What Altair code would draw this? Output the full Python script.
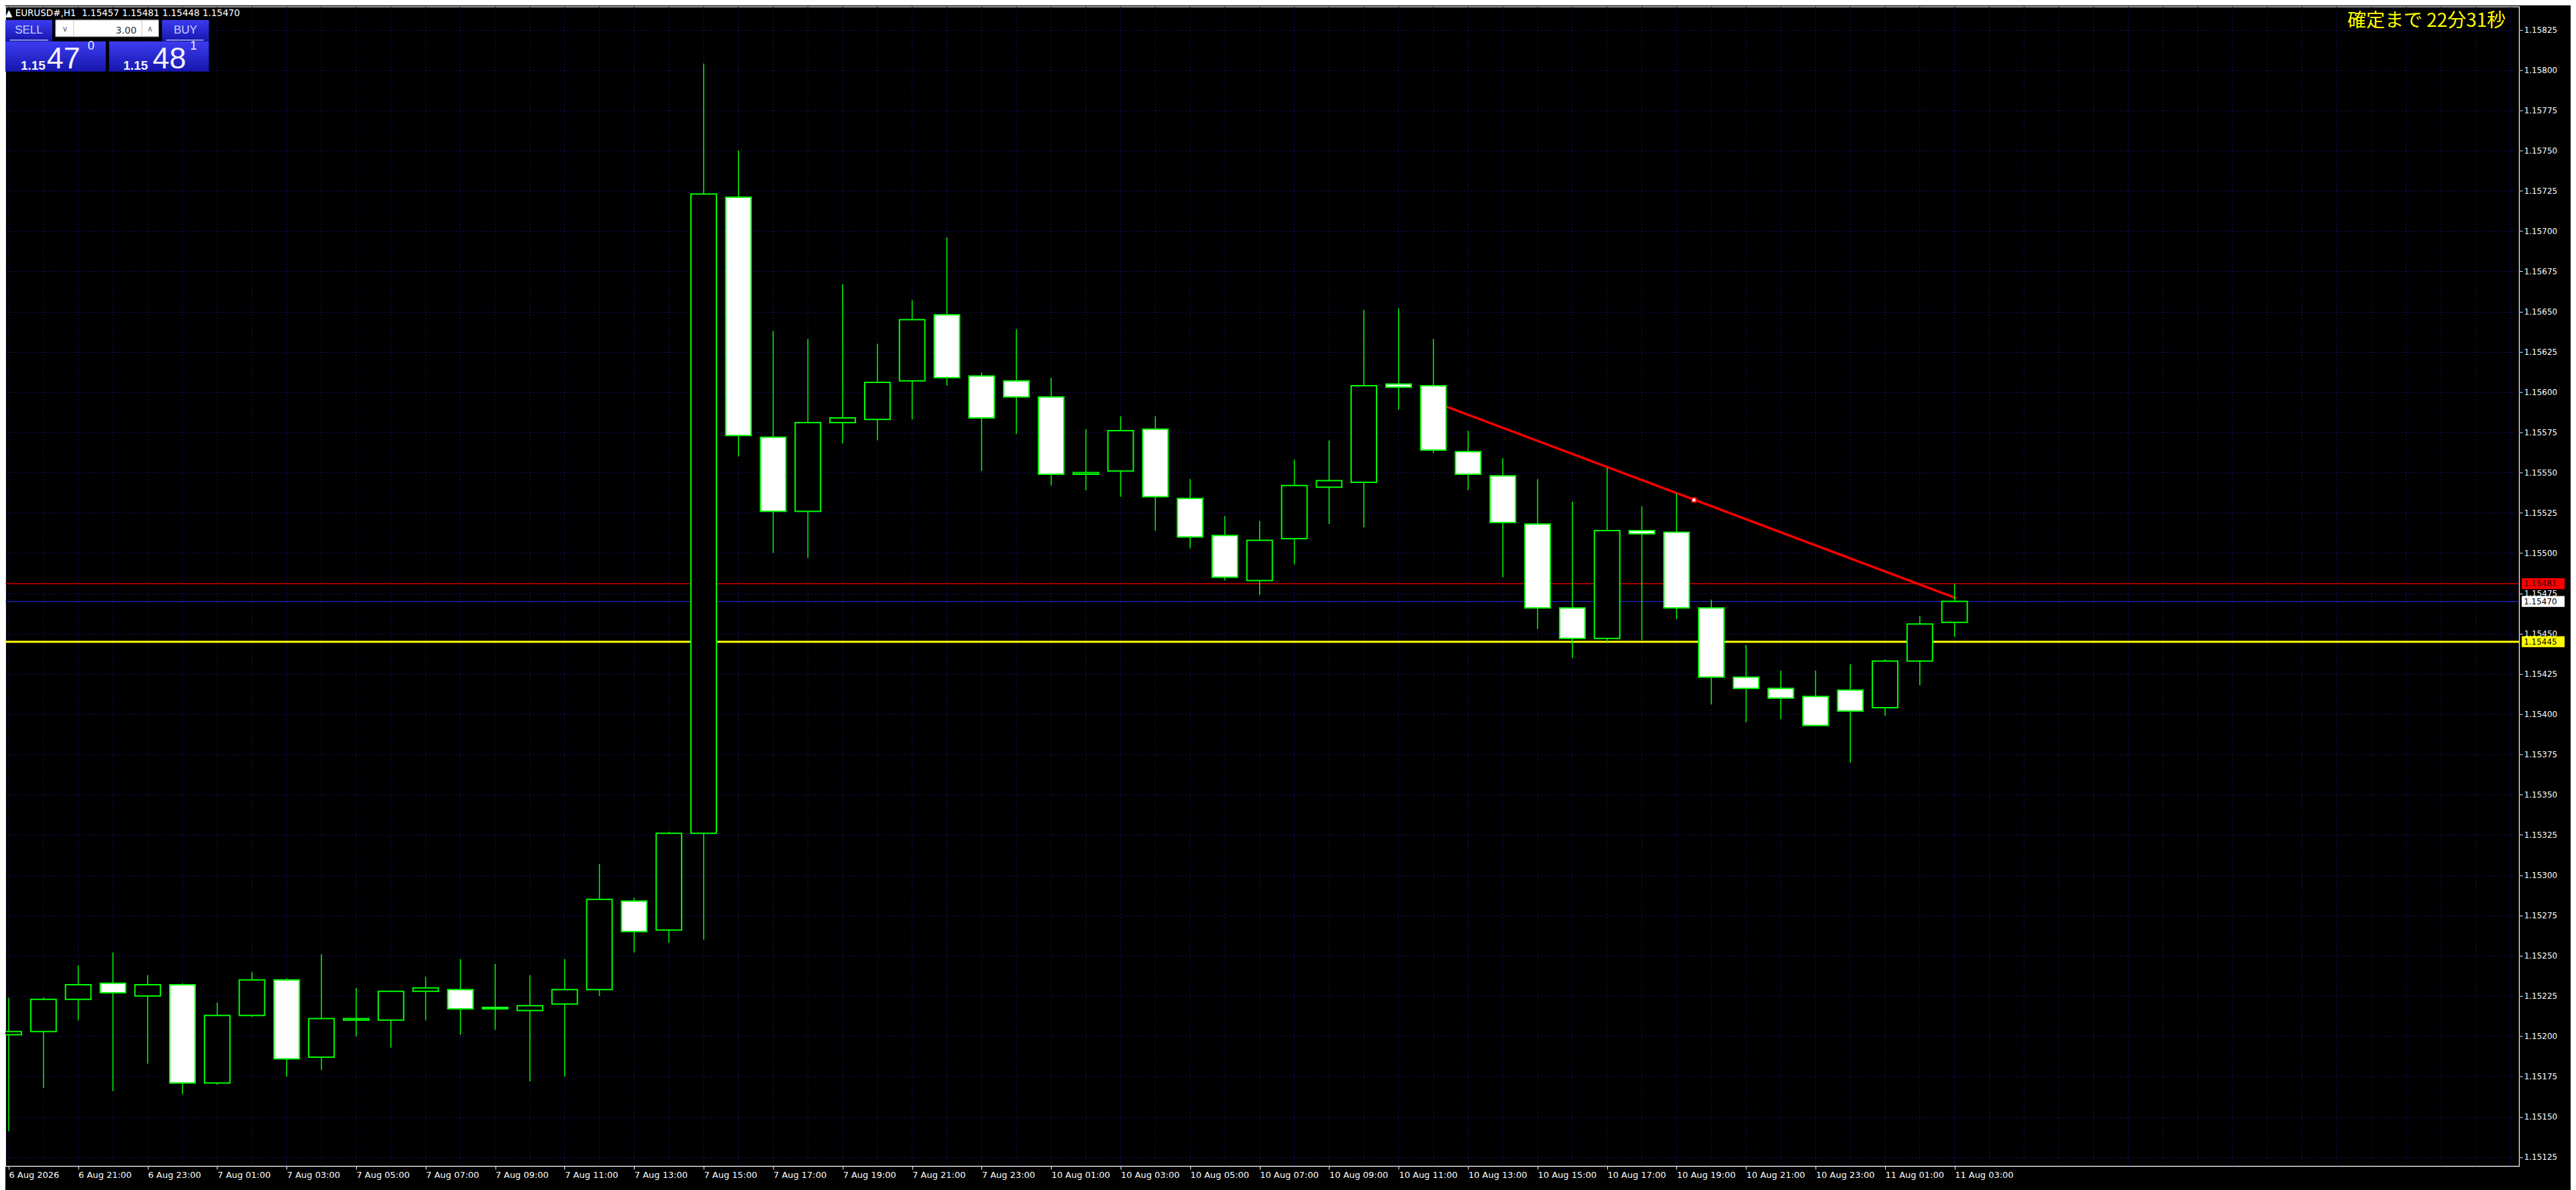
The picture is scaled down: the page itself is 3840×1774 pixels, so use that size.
import altair as alt
import pandas as pd

# ---------------- data ----------------
bar_index = list(range(57))
open_ = [1.15201, 1.15203, 1.15223, 1.15233, 1.15225, 1.15232, 1.15171, 1.15213, 1.15235, 1.15187,
         1.15210, 1.15210, 1.15228, 1.15229, 1.15218, 1.15216, 1.15220, 1.15229, 1.15284, 1.15266,
         1.15326, 1.15721, 1.15572, 1.15526, 1.15581, 1.15583, 1.15607, 1.15648, 1.15610, 1.15607,
         1.15597, 1.15549, 1.15551, 1.15577, 1.15534, 1.15511, 1.15483, 1.15509, 1.15541, 1.15544,
         1.15605, 1.15604, 1.15563, 1.15548, 1.15518, 1.15466, 1.15447, 1.15514, 1.15513, 1.15466,
         1.15423, 1.15416, 1.15411, 1.15415, 1.15404, 1.15433, 1.15457]
high = [1.15224, 1.15224, 1.15244, 1.15252, 1.15238, 1.15233, 1.15221, 1.15240, 1.15236, 1.15251,
        1.15230, 1.15228, 1.15237, 1.15248, 1.15245, 1.15238, 1.15248, 1.15307, 1.15286, 1.15327,
        1.15804, 1.15750, 1.15638, 1.15633, 1.15667, 1.15630, 1.15657, 1.15696, 1.15612, 1.15639,
        1.15609, 1.15577, 1.15585, 1.15585, 1.15546, 1.15523, 1.15520, 1.15558, 1.15570, 1.15651,
        1.15652, 1.15633, 1.15576, 1.15559, 1.15546, 1.15532, 1.15553, 1.15529, 1.15537, 1.15471,
        1.15443, 1.15427, 1.15427, 1.15431, 1.15434, 1.15461, 1.15481]
low = [1.15141, 1.15168, 1.15210, 1.15166, 1.15183, 1.15164, 1.15170, 1.15212, 1.15175, 1.15179,
       1.15200, 1.15193, 1.15210, 1.15201, 1.15204, 1.15172, 1.15175, 1.15225, 1.15252, 1.15258,
       1.15260, 1.15560, 1.15500, 1.15497, 1.15568, 1.15570, 1.15583, 1.15604, 1.15551, 1.15574,
       1.15542, 1.15539, 1.15535, 1.15514, 1.15503, 1.15483, 1.15474, 1.15493, 1.15518, 1.15516,
       1.15589, 1.15562, 1.15539, 1.15485, 1.15453, 1.15435, 1.15445, 1.15446, 1.15459, 1.15406,
       1.15395, 1.15397, 1.15393, 1.15370, 1.15399, 1.15418, 1.15448]
close = [1.15203, 1.15223, 1.15232, 1.15227, 1.15232, 1.15171, 1.15213, 1.15235, 1.15186, 1.15211,
         1.15211, 1.15228, 1.15230, 1.15217, 1.15217, 1.15219, 1.15229, 1.15285, 1.15265, 1.15326,
         1.15723, 1.15573, 1.15526, 1.15581, 1.15584, 1.15606, 1.15645, 1.15609, 1.15584, 1.15597,
         1.15549, 1.15550, 1.15576, 1.15535, 1.15510, 1.15485, 1.15508, 1.15542, 1.15545, 1.15604,
         1.15603, 1.15564, 1.15549, 1.15519, 1.15466, 1.15447, 1.15514, 1.15512, 1.15466, 1.15423,
         1.15416, 1.15410, 1.15393, 1.15402, 1.15433, 1.15456, 1.15470]

x_tick_labels = ["6 Aug 2026", "6 Aug 21:00", "6 Aug 23:00", "7 Aug 01:00", "7 Aug 03:00",
                 "7 Aug 05:00", "7 Aug 07:00", "7 Aug 09:00", "7 Aug 11:00", "7 Aug 13:00",
                 "7 Aug 15:00", "7 Aug 17:00", "7 Aug 19:00", "7 Aug 21:00", "7 Aug 23:00",
                 "10 Aug 01:00", "10 Aug 03:00", "10 Aug 05:00", "10 Aug 07:00", "10 Aug 09:00",
                 "10 Aug 11:00", "10 Aug 13:00", "10 Aug 15:00", "10 Aug 17:00", "10 Aug 19:00",
                 "10 Aug 21:00", "10 Aug 23:00", "11 Aug 01:00", "11 Aug 03:00"]
x_tick_values = [2 * k for k in range(len(x_tick_labels))]
y_tick_values = [round(1.15125 + 0.00025 * k, 5) for k in range(29)]
grid_positions = list(range(0, 73))

ask_price = 1.15481
bid_price = 1.15470
level_price = 1.15445
trend_i = [41.0, 56.05]
trend_p = [1.15594, 1.15472]
anchor_i = [48.5]
anchor_p = [1.15533]

symbol = "EURUSD#,H1"
lot = "3.00"
countdown = "確定まで 22分31秒"

# ---------------- style ----------------
W, H = 3755, 1732
LIME = "#00ff00"
GRID = "#15156e"
FONT = "DejaVu Sans"

df = pd.DataFrame({"i": bar_index, "open": open_, "high": high, "low": low, "close": close})

xscale = alt.Scale(domain=[0, 72.15], nice=False, zero=False)
yscale = alt.Scale(domain=[1.1511947, 1.1583934], nice=False, zero=False)

label_expr = "[" + ",".join("'%s'" % s for s in x_tick_labels) + "][round(datum.value / 2)]"
xaxis = alt.Axis(orient="bottom", values=x_tick_values, labelExpr=label_expr, grid=False,
                 domain=False, tickColor="white", tickSize=5, tickWidth=1, labelColor="white",
                 labelFont=FONT, labelFontSize=13, labelAlign="left", labelBaseline="top",
                 labelPadding=2, labelOverlap=False, labelFlush=False, labelBound=False)
yaxis = alt.Axis(orient="right", values=y_tick_values, format=".5f", grid=True, gridColor=GRID,
                 gridDash=[2, 3], gridWidth=1, domain=False, tickColor="white", tickSize=5,
                 tickWidth=1, labelColor="white", labelFont=FONT, labelFontSize=12,
                 labelPadding=2, labelAlign="left", labelBaseline="middle",
                 labelOverlap=False, labelFlush=False)


def X(field):
    return alt.X(field + ":Q", scale=xscale, axis=xaxis, title=None)


def Y(field):
    return alt.Y(field + ":Q", scale=yscale, axis=yaxis, title=None)


one = pd.DataFrame({"k": [0]})

# vertical grid
vgrid = alt.Chart(pd.DataFrame({"i": grid_positions})).mark_rule(
    color=GRID, strokeDash=[2, 3], strokeWidth=1).encode(x=X("i"))

# horizontal price lines
lines_df = pd.DataFrame({"price": [ask_price, bid_price, level_price]})
ask_line = alt.Chart(lines_df.iloc[[0]]).mark_rule(color="#ff0000", strokeWidth=1.2).encode(y=Y("price"))
bid_line = alt.Chart(lines_df.iloc[[1]]).mark_rule(color="#2222c8", strokeWidth=1.2).encode(y=Y("price"))
lvl_line = alt.Chart(lines_df.iloc[[2]]).mark_rule(color="#ffff00", strokeWidth=3).encode(y=Y("price"))

# trend line
trend = alt.Chart(pd.DataFrame({"i": trend_i, "price": trend_p})).mark_line(
    color="#ff0000", strokeWidth=3.5).encode(x=X("i"), y=Y("price"))
anchor = alt.Chart(pd.DataFrame({"i": anchor_i, "price": anchor_p})).mark_square(
    size=40, fill="white", stroke="#ff0000", strokeWidth=2, opacity=1).encode(x=X("i"), y=Y("price"))

# candles
wick = alt.Chart(df).mark_rule(color=LIME, strokeWidth=1.5, clip=True).encode(
    x=X("i"), y=Y("low"), y2=alt.Y2("high:Q"))
body = alt.Chart(df).mark_bar(size=38, stroke=LIME, strokeWidth=2, clip=True).encode(
    x=X("i"), y=Y("open"), y2=alt.Y2("close:Q"),
    fill=alt.condition(alt.datum.close >= alt.datum.open, alt.value("black"), alt.value("white")))

# right-side price tags
tags_df = pd.DataFrame({"price": [ask_price, bid_price, level_price], "kind": ["ask", "bid", "level"]})
tag_rect = alt.Chart(tags_df).transform_calculate(
    top="datum.price + 0.000034", bot="datum.price - 0.000034").mark_rect().encode(
    x=alt.value(W + 4), x2=alt.value(W + 68), y=Y("top"), y2=alt.Y2("bot:Q"),
    fill=alt.Fill("kind:N", scale=alt.Scale(domain=["ask", "bid", "level"],
                                            range=["#ff0000", "#ffffff", "#ffff00"]), legend=None))
tag_text = alt.Chart(tags_df).mark_text(align="left", baseline="middle", font=FONT, fontSize=12).encode(
    x=alt.value(W + 7), y=Y("price"), text=alt.Text("price:Q", format=".5f"),
    color=alt.Color("kind:N", scale=alt.Scale(domain=["ask", "bid", "level"],
                                              range=["#3a0000", "#000000", "#000000"]), legend=None))

# ---------------- top-left one-click trading panel ----------------
grad = {"gradient": "linear", "x1": 0, "y1": 0, "x2": 0, "y2": 1,
        "stops": [{"offset": 0, "color": "#3c3cf2"}, {"offset": 1, "color": "#1616ac"}]}


def box(x, x2, y, y2, **kw):
    return alt.Chart(one).mark_rect(**kw).encode(
        x=alt.value(x), x2=alt.value(x2), y=alt.value(y), y2=alt.value(y2))


def txt(s, x, y, size, color="#f0f0ff", align="left", font="Liberation Sans", weight="normal",
        baseline="alphabetic"):
    return alt.Chart(one).mark_text(text=s, align=align, baseline=baseline, font=font,
                                    fontSize=size, fontWeight=weight, color=color).encode(
        x=alt.value(x), y=alt.value(y))


def hline(x, x2, y, color, width=1.5):
    return alt.Chart(one).mark_rule(color=color, strokeWidth=width).encode(
        x=alt.value(x), x2=alt.value(x2), y=alt.value(y))


def vline(x, y, y2, color, width=1):
    return alt.Chart(one).mark_rule(color=color, strokeWidth=width).encode(
        x=alt.value(x), y=alt.value(y), y2=alt.value(y2))


last = df.iloc[-1]
title_text = "▲ %s\u00a0 %.5f %.5f %.5f %.5f" % (symbol, last["open"], last["high"], last["low"], last["close"])

sell_p = "%.5f" % bid_price
buy_p = "%.5f" % ask_price

panel = [
    box(0, 70, 20, 52, fill=grad),
    box(0, 150, 52, 97, fill=grad),
    box(234, 304, 20, 52, fill=grad),
    box(155, 304, 52, 97, fill=grad),
    box(75, 229, 20, 45, fill="#ffffff", stroke="#9a9a9a", strokeWidth=1),
    vline(102, 21, 44, "#c4c4c4"),
    vline(204, 21, 44, "#c4c4c4"),
    txt("∨", 89, 37, 12, color="#6a6a6a", align="center", font=FONT),
    txt("∧", 216, 37, 12, color="#6a6a6a", align="center", font=FONT),
    txt(lot, 196, 40, 14, color="#333333", align="right", font=FONT),
    txt("SELL", 35, 40, 17, color="#c8d2ff", align="center"),
    txt("BUY", 269, 40, 17, color="#c8d2ff", align="center"),
    hline(7, 64, 50, "#aab4f0"),
    hline(240, 296, 50, "#aab4f0"),
    txt(sell_p[:4], 23, 94, 19, weight="bold"),
    txt(sell_p[4:6], 62, 92, 45),
    txt(sell_p[6:], 123, 64, 18),
    txt(buy_p[:4], 176, 94, 19, weight="bold"),
    txt(buy_p[4:6], 220, 92, 45),
    txt(buy_p[6:], 276, 64, 18),
    txt(title_text, 0, 14, 13.5, color="white", font=FONT),
    txt(countdown, W - 20, 22, 28, color="#ffff00", align="right", font="Noto Sans CJK JP",
        baseline="middle"),
]

chart = alt.layer(
    vgrid, ask_line, bid_line, lvl_line, trend, wick, body, anchor, tag_rect, tag_text, *panel
).properties(
    width=W, height=H,
    autosize=alt.AutoSizeParams(type="none"),
    padding={"left": 0, "top": 0, "right": 77, "bottom": 34},
    background="black",
).configure_view(stroke="white", strokeWidth=1.2)

chart.save("out.html", embed_options={"renderer": "svg", "actions": False})
